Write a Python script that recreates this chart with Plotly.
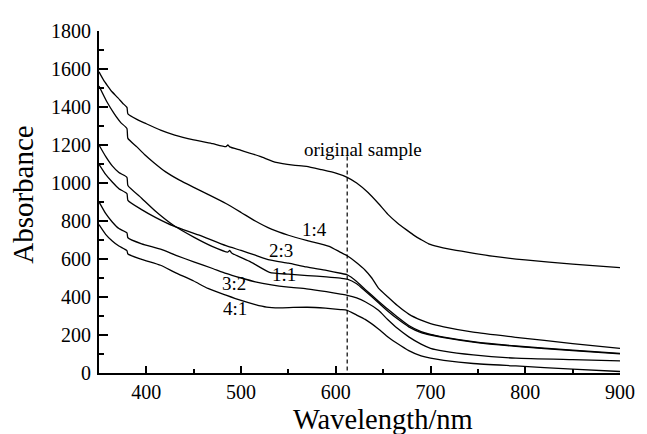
import plotly.graph_objects as go

# ---- data ----
orig_x = [350, 355, 360, 363, 370, 375, 379.5, 380.5, 390, 400, 415, 430, 450, 470, 484, 486, 488, 500, 520, 537, 555, 569, 585, 600, 612, 622, 634, 645, 655, 665, 675, 683, 690, 698, 708, 720, 740, 765, 800, 850, 900]
orig_y = [1585, 1540, 1505, 1484, 1448, 1420, 1398, 1364, 1335, 1312, 1278, 1252, 1227, 1207, 1192, 1200, 1190, 1172, 1140, 1108, 1094, 1088, 1070, 1052, 1030, 1000, 950, 892, 835, 790, 752, 723, 702, 680, 665, 652, 635, 615, 595, 573, 555]

r14_x = [350, 358, 366, 373, 379.5, 380.5, 390, 398, 408, 420, 435, 450, 465, 484, 500, 515, 532, 550, 570, 593, 605, 612, 622, 631, 638, 645, 655, 665, 677, 690, 700, 714, 745, 790, 850, 900]
r14_y = [1510, 1430, 1365, 1318, 1287, 1235, 1190, 1150, 1107, 1060, 1015, 977, 940, 892, 845, 800, 757, 725, 697, 667, 635, 617, 580, 541, 500, 447, 400, 355, 310, 278, 260, 243, 215, 188, 155, 130]

r23_x = [350, 357, 364, 371, 379.5, 380.5, 395, 410, 429, 455, 484, 500, 515, 530, 550, 569, 590, 605, 612, 622, 631, 645, 655, 665, 677, 690, 700, 714, 745, 790, 850, 900]
r23_y = [1098, 1045, 1005, 970, 944, 909, 860, 818, 773, 727, 670, 645, 620, 595, 578, 558, 540, 525, 517, 482, 440, 378, 335, 295, 250, 218, 203, 189, 165, 142, 120, 103]

r11_x = [350, 357, 364, 371, 379.5, 380.5, 395, 410, 429, 450, 470, 486, 488, 490, 510, 530, 550, 570, 590, 605, 612, 622, 631, 645, 655, 665, 677, 690, 700, 714, 745, 790, 850, 900]
r11_y = [1200, 1140, 1090, 1055, 1030, 987, 920, 850, 776, 715, 665, 636, 645, 632, 585, 530, 520, 513, 506, 499, 494, 470, 432, 370, 325, 285, 243, 213, 200, 186, 163, 140, 118, 101]

r32_x = [350, 357, 364, 371, 379.5, 380.5, 395, 415, 432, 450, 470, 484, 500, 515, 532, 550, 569, 590, 605, 612, 622, 631, 645, 655, 665, 677, 690, 700, 714, 745, 790, 850, 900]
r32_y = [901, 840, 795, 760, 738, 712, 680, 652, 618, 585, 550, 524, 500, 480, 464, 452, 443, 428, 415, 409, 395, 375, 330, 280, 235, 190, 152, 130, 115, 95, 78, 70, 64]

r41_x = [350, 357, 364, 371, 379.5, 380.5, 395, 415, 430, 450, 465, 484, 500, 515, 527, 540, 555, 570, 589, 605, 612, 622, 631, 645, 655, 665, 677, 690, 700, 714, 745, 790, 850, 900]
r41_y = [781, 730, 695, 668, 644, 626, 598, 567, 530, 484, 445, 410, 382, 360, 347, 343, 345, 346, 341, 334, 330, 305, 282, 232, 190, 155, 118, 90, 78, 67, 50, 37, 20, 8]

series = [orig_y, r14_y, r23_y, r11_y, r32_y, r41_y]
xs = [orig_x, r14_x, r23_x, r11_x, r32_x, r41_x]
names = ["original sample", "1:4", "2:3", "1:1", "3:2", "4:1"]

# dashed marker line
dash_x = 612
dash_top = 1140

# curve labels (text, x, y)
label_text = ["original sample", "1:4", "2:3", "1:1", "3:2", "4:1"]
label_x = [629, 578, 542, 545, 493, 494]
label_y = [1175, 755, 645, 517, 472, 340]

x_ticks = [400, 500, 600, 700, 800, 900]
y_ticks = [0, 200, 400, 600, 800, 1000, 1200, 1400, 1600, 1800]

FONT = "Liberation Serif"

# page has an 8px body margin, so the figure is 8px smaller than the window
W, H = 639, 426
ML, MT = 91, 15
PW, PH = 530, 350.5

fig = go.Figure()
for x, y, n in zip(xs, series, names):
    fig.add_trace(go.Scatter(x=x, y=y, mode="lines", name=n,
                             line=dict(color="black", width=1.3, shape="spline", smoothing=0.5),
                             showlegend=False))

fig.add_trace(go.Scatter(x=[dash_x, dash_x], y=[dash_top, 0], mode="lines",
                         line=dict(color="black", width=1.2, dash="4px,3px"),
                         showlegend=False))

for t, x, y in zip(label_text, label_x, label_y):
    fig.add_annotation(x=x, y=y, text=t, showarrow=False, xref="x", yref="y",
                       font=dict(family=FONT, size=19, color="black"))

# axis titles
fig.add_annotation(text="Wavelength/nm", xref="paper", yref="paper",
                   x=(387.5 - 99) / PW, y=-47.5 / PH,
                   xanchor="center", yanchor="middle", showarrow=False,
                   font=dict(family=FONT, size=28.5, color="black"))
fig.add_annotation(text="Absorbance", xref="paper", yref="paper",
                   x=-(99 - 21.5) / PW, y=(373.5 - 190) / PH,
                   xanchor="center", yanchor="middle", textangle=-90, showarrow=False,
                   font=dict(family=FONT, size=29, color="black"))

fig.update_layout(
    width=W, height=H,
    margin=dict(l=ML, r=W - ML - PW, t=MT, b=H - MT - PH),
    paper_bgcolor="white", plot_bgcolor="white",
    font=dict(family=FONT, color="black"),
    xaxis=dict(range=[350, 900], tickvals=x_ticks, ticks="inside", ticklen=7, tickwidth=1.5,
               tickcolor="black", showline=True, linecolor="black", linewidth=2,
               showgrid=False, zeroline=False, tickfont=dict(family=FONT, size=20),
               minor=dict(dtick=50, tick0=350, ticks="inside", ticklen=4, tickwidth=1.5, tickcolor="black", showgrid=False)),
    yaxis=dict(range=[0, 1800], tickvals=y_ticks, ticks="inside", ticklen=9, tickwidth=1.5,
               tickcolor="black", showline=True, linecolor="black", linewidth=2,
               showgrid=False, zeroline=False, tickfont=dict(family=FONT, size=20),
               ticklabelstandoff=2,
               minor=dict(dtick=100, tick0=0, ticks="inside", ticklen=5, tickwidth=1.5, tickcolor="black", showgrid=False)),
)

fig.write_html("out.html")
